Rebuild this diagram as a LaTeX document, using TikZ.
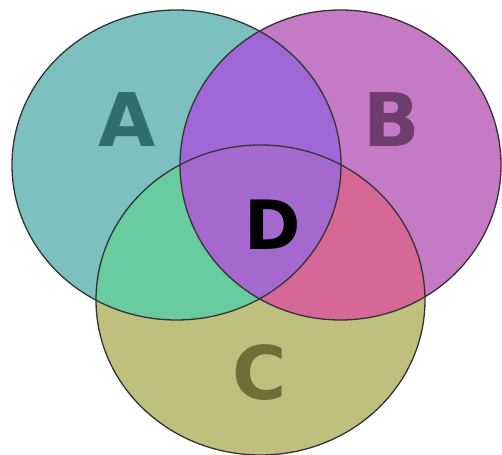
\documentclass[tikz,border=0pt]{standalone}
\usepackage{fontspec}
\setsansfont{DejaVu Sans}
\usepackage{xcolor}
\usepackage{tikz}
\usetikzlibrary{positioning}
\definecolor{onlyA}{RGB}{124,192,192}
\definecolor{onlyB}{RGB}{196,122,196}
\definecolor{onlyC}{RGB}{192,192,126}
\definecolor{partAB}{RGB}{160,104,214}
\definecolor{partAC}{RGB}{104,204,160}
\definecolor{partBC}{RGB}{214,104,152}
\definecolor{partABC}{RGB}{164,104,206}
\definecolor{textA}{RGB}{48,110,110}
\definecolor{textB}{RGB}{110,60,110}
\definecolor{textC}{RGB}{110,110,56}
\newcommand{\setA}{(176.5,289) ellipse [x radius=164.5pt, y radius=155pt]}
\newcommand{\setB}{(340.5,289) ellipse [x radius=160.5pt, y radius=155pt]}
\newcommand{\setC}{(260.5,154) ellipse [x radius=164.5pt, y radius=155pt]}

\begin{document}
\begin{tikzpicture}[
  x=1pt, y=1pt,
  rim/.style={draw=black!80, line width=1.3pt},
  letter/.style={font=\sffamily\bfseries\fontsize{74}{74}\selectfont, inner sep=0pt}
]
\useasboundingbox (0,0) rectangle (502,454);
\fill[white] (0,0) rectangle (502,454);

% plain sets
\fill[onlyA] \setA;
\fill[onlyB] \setB;
\fill[onlyC] \setC;

% overlaps
\begin{scope}
  \clip \setA;
  \fill[partAB] \setB;
  \fill[partAC] \setC;
\end{scope}
\begin{scope}
  \clip \setB;
  \fill[partBC] \setC;
\end{scope}
\begin{scope}
  \clip \setA;
  \clip \setB;
  \fill[partABC] \setC;
\end{scope}

% outlines
\draw[rim] \setA;
\draw[rim] \setB;
\draw[rim] \setC;

\node[letter, textA] (labA) at (127,334) {A};
\node[letter, textB] (labB) at (392,334) {B};
\node[letter, textC] (labC) at (260,81) {C};
\node[letter, black, font=\sffamily\bfseries\fontsize{68}{68}\selectfont] (labD) at (273,229) {D};
\end{tikzpicture}
\end{document}
